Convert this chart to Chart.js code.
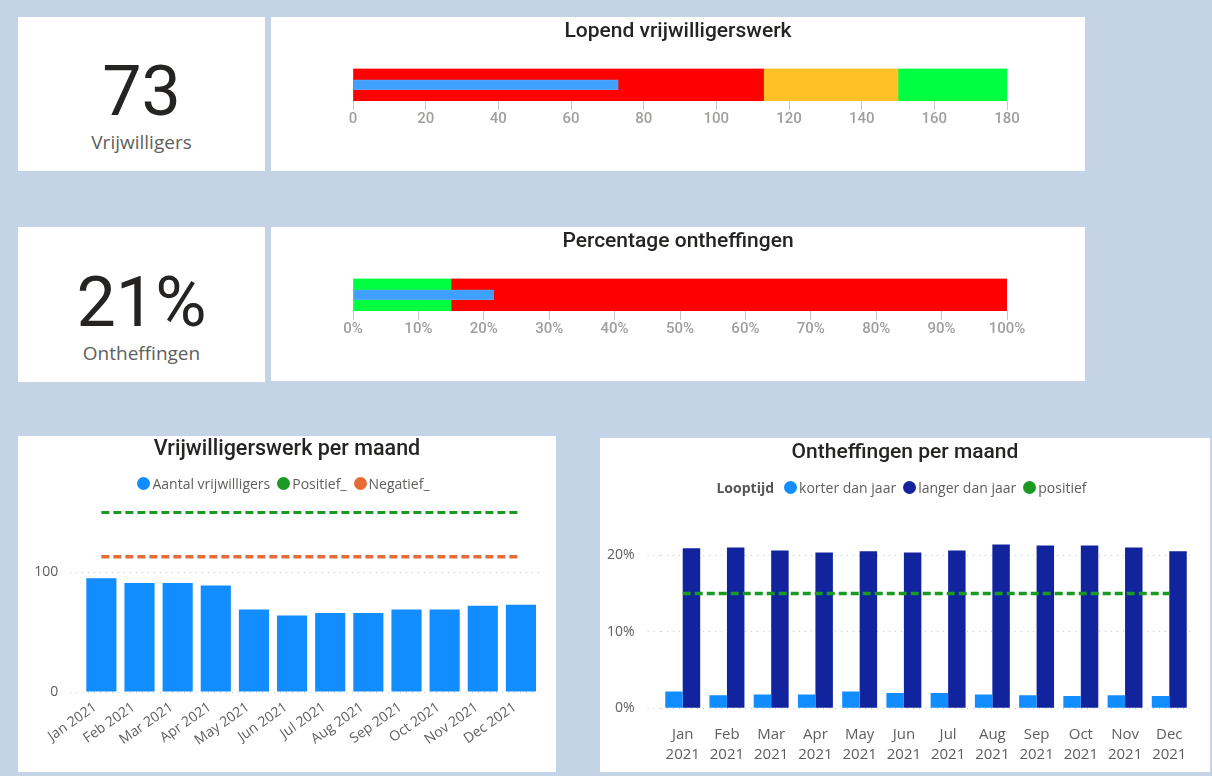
<!DOCTYPE html>
<html>
<head>
<meta charset="utf-8">
<script src="https://cdn.jsdelivr.net/npm/chart.js@4.4.0/dist/chart.umd.min.js"></script>
<style>
    body { margin: 0; background: #c5d3e6; }
    #page { position: relative; width: 1212px; height: 776px; background: #c5d3e6; overflow: hidden; }
    .tile { position: absolute; background: #fff; }
    .tile canvas { position: absolute; left: 0; top: 0; }
    .title { position: absolute; left: 0; right: 0; text-align: center; font-family: Roboto, sans-serif; font-size: 21px; font-weight: 500; color: #252423; white-space: nowrap; }
    .big { position: absolute; left: 0; right: 0; text-align: center; font-family: Roboto, sans-serif; font-size: 70px; line-height: 70px; color: #252423; }
    .sub { position: absolute; left: 0; right: 0; text-align: center; font-family: 'Open Sans', sans-serif; font-size: 19px; color: #605e5c; }
    .legend { position: absolute; left: 0; right: 0; display: flex; justify-content: center; align-items: center; font-family: 'Open Sans', sans-serif; font-size: 14px; color: #605e5c; white-space: nowrap; }
    .legend .item { display: flex; align-items: center; margin-right: 7px; }
    .legend .dot { width: 13px; height: 13px; border-radius: 50%; margin-right: 2px; }
    .legend .lt { font-weight: bold; margin-right: 10px; color: #555; }
</style>
</head>
<body>
<div id="page">
    <div class="tile" style="left:18px;top:17px;width:247px;height:154px;">
        <div class="big" id="kpiVol" style="top:39px;"></div>
        <div class="sub" style="top:112px;">Vrijwilligers</div>
    </div>
    <div class="tile" style="left:271px;top:17px;width:814px;height:154px;">
        <canvas id="bulletVol"></canvas>
        <div class="title" style="top:1px;">Lopend vrijwilligerswerk</div>
    </div>

    <div class="tile" style="left:18px;top:227px;width:247px;height:155px;">
        <div class="big" id="kpiOnth" style="top:40px;"></div>
        <div class="sub" style="top:113px;">Ontheffingen</div>
    </div>
    <div class="tile" style="left:271px;top:227px;width:814px;height:154px;">
        <canvas id="bulletOnth"></canvas>
        <div class="title" style="top:1px;">Percentage ontheffingen</div>
    </div>

    <div class="tile" style="left:18px;top:436px;width:538px;height:336px;">
        <canvas id="volChart"></canvas>
        <div class="title" style="top:-1px;font-size:21.5px;">Vrijwilligerswerk per maand</div>
        <div class="legend" id="volLegend" style="top:38px;"></div>
    </div>
    <div class="tile" style="left:600px;top:438px;width:610px;height:334px;">
        <canvas id="onthChart"></canvas>
        <div class="title" style="top:1px;">Ontheffingen per maand</div>
        <div class="legend" id="onthLegend" style="top:40px;"><span class="lt">Looptijd</span></div>
    </div>
</div>

<script>
// KPI values
const currentVolunteers = 73;
const currentExemption = 21.5;

// bullet charts: band edges and actual value
const volBandEdges = [0, 113, 150, 180];
const volBandColors = ['#ff0000', '#ffc125', '#00ff41'];
const onthBandEdges = [0, 15, 100];
const onthBandColors = ['#00ff41', '#ff0000'];

// monthly data
const months = ['Jan 2021', 'Feb 2021', 'Mar 2021', 'Apr 2021', 'May 2021', 'Jun 2021',
                'Jul 2021', 'Aug 2021', 'Sep 2021', 'Oct 2021', 'Nov 2021', 'Dec 2021'];
const volunteers = [95, 91, 91, 89, 69, 64, 66, 66, 69, 69, 72, 73];
const positiefVol = [150, 150, 150, 150, 150, 150, 150, 150, 150, 150, 150, 150];
const negatiefVol = [113, 113, 113, 113, 113, 113, 113, 113, 113, 113, 113, 113];
const volTicks = [0, 100];

const korter = [2.2, 1.7, 1.8, 1.8, 2.2, 2.0, 2.0, 1.8, 1.7, 1.6, 1.7, 1.6];
const langer = [20.9, 21.0, 20.6, 20.35, 20.5, 20.35, 20.6, 21.4, 21.25, 21.25, 21.0, 20.5];
const positiefOnth = [15, 15, 15, 15, 15, 15, 15, 15, 15, 15, 15, 15];
const onthTicks = [0, 10, 20];

const BLUE = '#118dff';
const NAVY = '#12239e';
const GREEN = '#1a9a22';
const ORANGE = '#e66c37';
const GRID = '#c8c6c4';

Chart.defaults.font.family = "'Open Sans', sans-serif";
Chart.defaults.color = '#605e5c';
Chart.defaults.animation = false;

document.getElementById('kpiVol').textContent = currentVolunteers;
document.getElementById('kpiOnth').textContent = Math.floor(currentExemption) + '%';

function bullet(canvasId, edges, colors, actual, max, step, suffix) {
    const bands = colors.map((c, i) => ({
        data: [[edges[i], edges[i + 1]]],
        backgroundColor: c,
        barPercentage: 1,
        categoryPercentage: 1,
        order: 1
    }));
    const canvas = document.getElementById(canvasId);
    canvas.width = 814;
    canvas.height = 154;
    return new Chart(canvas, {
        type: 'bar',
        data: {
            labels: [''],
            datasets: [{
                data: [[0, actual]],
                backgroundColor: '#40a0ff',
                borderColor: '#5aa8f0',
                borderWidth: 1,
                borderSkipped: false,
                barThickness: 10,
                order: 0
            }].concat(bands)
        },
        options: {
            indexAxis: 'y',
            responsive: false,
            layout: { padding: { top: 51.5, left: 82, right: 78, bottom: 0 } },
            datasets: { bar: { grouped: false } },
            plugins: { legend: { display: false }, tooltip: { enabled: false } },
            scales: {
                y: { display: false },
                x: {
                    min: 0,
                    max: max,
                    grid: { drawOnChartArea: false, drawTicks: true, tickLength: 9, color: GRID },
                    border: { display: false },
                    ticks: {
                        stepSize: step,
                        padding: 0,
                        color: '#a19f9d',
                        font: { family: 'Roboto', size: 15, weight: '500' },
                        callback: v => v + suffix
                    },
                    afterFit: s => { s.height = 70; }
                }
            }
        }
    });
}

bullet('bulletVol', volBandEdges, volBandColors, currentVolunteers, 180, 20, '');
bullet('bulletOnth', onthBandEdges, onthBandColors, currentExemption, 100, 10, '%');

function htmlLegend(el, chart) {
    chart.data.datasets.forEach(ds => {
        const item = document.createElement('span');
        item.className = 'item';
        const dot = document.createElement('span');
        dot.className = 'dot';
        dot.style.background = ds.legendColor;
        const txt = document.createElement('span');
        txt.textContent = ds.label;
        item.append(dot, txt);
        el.appendChild(item);
    });
}

const volCanvas = document.getElementById('volChart');
volCanvas.width = 538;
volCanvas.height = 336;
const volChart = new Chart(volCanvas, {
    type: 'bar',
    data: {
        labels: months,
        datasets: [
            { type: 'bar', label: 'Aantal vrijwilligers', data: volunteers, backgroundColor: BLUE, legendColor: BLUE,
              barPercentage: 0.79, categoryPercentage: 1, order: 1 },
            { type: 'line', label: 'Positief_', data: positiefVol, borderColor: GREEN, legendColor: GREEN,
              borderWidth: 3, borderDash: [8, 4], pointRadius: 0, order: 0 },
            { type: 'line', label: 'Negatief_', data: negatiefVol, borderColor: ORANGE, legendColor: ORANGE,
              borderWidth: 3.5, borderDash: [8, 4], pointRadius: 0, order: 0 }
        ]
    },
    options: {
        responsive: false,
        layout: { padding: { top: 64.5, right: 16, left: 0, bottom: 0 } },
        plugins: { legend: { display: false }, tooltip: { enabled: false } },
        scales: {
            x: {
                grid: { display: false, drawTicks: false },
                border: { display: false },
                ticks: { minRotation: 35, maxRotation: 35, autoSkip: false, padding: 7, labelOffset: -6, font: { size: 14 } },
                afterFit: s => { s.height = 80; }
            },
            y: {
                min: 0,
                max: 160,
                afterBuildTicks: s => { s.ticks = volTicks.map(v => ({ value: v })); },
                grid: { color: GRID, tickColor: GRID, tickLength: 12, tickBorderDash: [1, 5] },
                border: { display: false, dash: [1, 5] },
                ticks: { padding: 12, font: { size: 14 } },
                afterFit: s => { s.width = 64.3; }
            }
        }
    }
});
htmlLegend(document.getElementById('volLegend'), volChart);

const onthCanvas = document.getElementById('onthChart');
onthCanvas.width = 610;
onthCanvas.height = 334;
const onthChart = new Chart(onthCanvas, {
    type: 'bar',
    data: {
        labels: months,
        datasets: [
            { type: 'bar', label: 'korter dan jaar', data: korter, backgroundColor: BLUE, legendColor: BLUE,
              barPercentage: 1, categoryPercentage: 0.79, order: 1 },
            { type: 'bar', label: 'langer dan jaar', data: langer, backgroundColor: NAVY, legendColor: NAVY,
              barPercentage: 1, categoryPercentage: 0.79, order: 1 },
            { type: 'line', label: 'positief', data: positiefOnth, borderColor: GREEN, legendColor: GREEN,
              borderWidth: 3.5, borderDash: [8, 4], pointRadius: 0, order: 0 }
        ]
    },
    options: {
        responsive: false,
        layout: { padding: { top: 86.5, right: 18.6, left: 0, bottom: 0 } },
        plugins: { legend: { display: false }, tooltip: { enabled: false } },
        scales: {
            x: {
                grid: { display: false, drawTicks: false },
                border: { display: false },
                ticks: {
                    autoSkip: false,
                    maxRotation: 0,
                    padding: 16,
                    font: { size: 15, lineHeight: '20px' },
                    callback: function (v) { return this.getLabelForValue(v).split(' '); }
                },
                afterFit: s => { s.height = 63.7; }
            },
            y: {
                min: 0,
                max: 24,
                afterBuildTicks: s => { s.ticks = onthTicks.map(v => ({ value: v })); },
                grid: { color: GRID, tickColor: GRID, tickLength: 13, tickBorderDash: [1, 5] },
                border: { display: false, dash: [1, 5] },
                ticks: { padding: 13, font: { size: 14 }, callback: v => v + '%' },
                afterFit: s => { s.width = 60.6; }
            }
        }
    }
});
htmlLegend(document.getElementById('onthLegend'), onthChart);
</script>
</body>
</html>
